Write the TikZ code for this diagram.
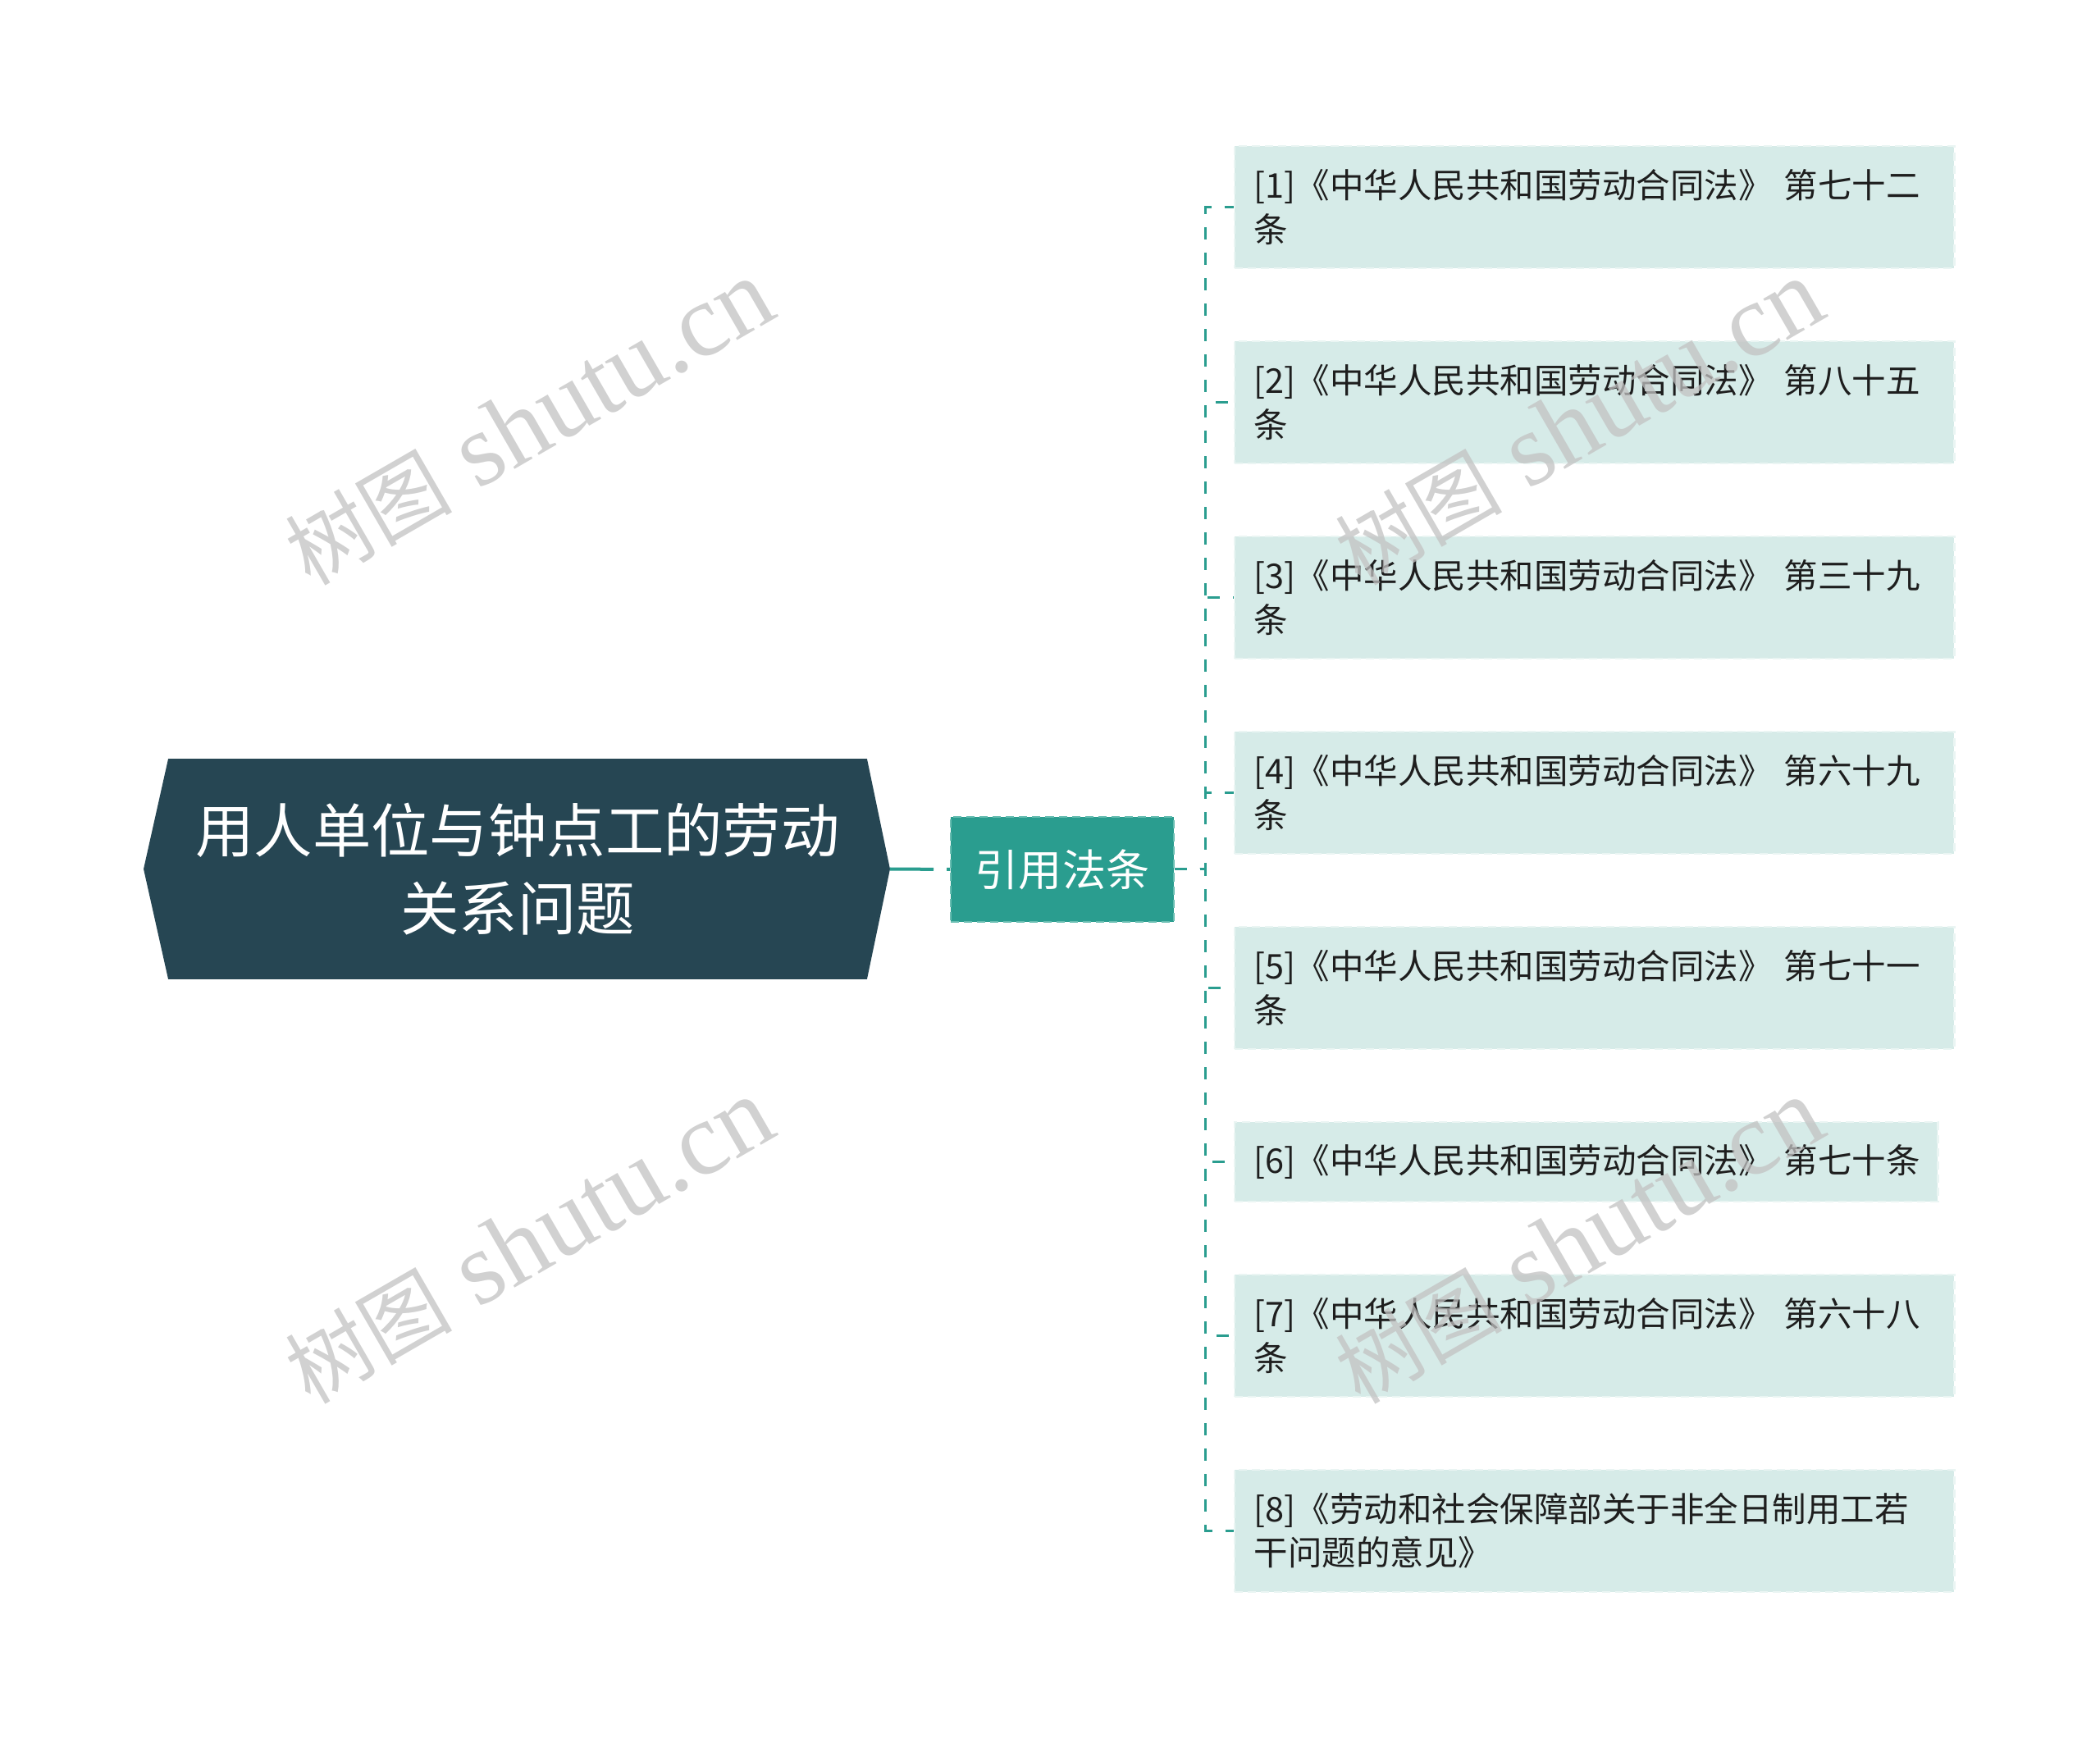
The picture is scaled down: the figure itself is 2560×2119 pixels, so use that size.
\documentclass[tikz,border=0pt]{standalone}
\usepackage{fontspec}
\setmainfont{Noto Sans CJK SC}
\newfontfamily\wmcjk{Noto Sans CJK SC}
\newfontfamily\wmlatin{Liberation Serif}
\usetikzlibrary{backgrounds}
\definecolor{rootfill}{HTML}{264653}
\definecolor{midfill}{HTML}{2A9D8F}
\definecolor{midedge}{HTML}{68BDB1}
\definecolor{leaffill}{HTML}{D6EBE8}
\definecolor{leafedge}{HTML}{EAF5F3}
\definecolor{conncol}{HTML}{2A9D8F}
\definecolor{wmcol}{HTML}{C2C2C2}
\definecolor{leaftext}{HTML}{1E1E1E}
\begin{document}
\begin{tikzpicture}[x=0.01cm,y=-0.01cm,
  roottext/.style={rectangle, inner sep=0pt, minimum width=8.5cm, minimum height=2.67cm,
    text=white, align=center, font=\fontsize{20.3pt}{27pt}\selectfont},
  midbox/.style={rectangle, fill=midfill, draw=midedge, line width=0.02cm,
    dash pattern=on 0.1cm off 0.06cm, inner sep=0pt, minimum width=2.71cm,
    minimum height=1.27cm, text=white, font=\fontsize{15.1pt}{18pt}\selectfont},
  leafbox/.style={rectangle, fill=leaffill, draw=leafedge, line width=0.025cm,
    dash pattern=on 0.1cm off 0.06cm, text width=8.29cm, inner xsep=0.24cm,
    inner ysep=0pt, minimum height=1.49cm, align=left, text=leaftext,
    font=\fontsize{11.8pt}{15.1pt}\selectfont},
  rootconn/.style={draw=conncol, line width=0.04cm, dash pattern=on 0.53cm off 0.16cm},
  conn/.style={draw=conncol, line width=0.03cm, dash pattern=on 0.15cm off 0.16cm},
  wm/.style={rotate=30, text=wmcol, text opacity=0.75, inner sep=0pt}
]
\useasboundingbox (0,0) rectangle (2560,2119);

% root
\node[roottext] (root) at (631,1059.5) {用人单位与钟点工的劳动\\关系问题};
\coordinate (roottip) at ([xshift=0.28cm]root.east);
\coordinate (roottail) at ([xshift=-0.30cm]root.west);
\begin{scope}[on background layer]
  \fill[white] (0,0) rectangle (2560,2119);
  \fill[rootfill] (root.north west) -- (root.north east) -- (roottip)
    -- (root.south east) -- (root.south west) -- (roottail) -- cycle;
\end{scope}

% middle
\node[midbox] (mid) at (1295,1060) {引用法条};

% leaves
\node[leafbox] (leaf1) at (1943.5,252.5) {[1]《中华人民共和国劳动合同法》~第七十二\\条};
\node[leafbox] (leaf2) at (1943.5,490.5) {[2]《中华人民共和国劳动合同法》~第八十五\\条};
\node[leafbox] (leaf3) at (1943.5,728.5) {[3]《中华人民共和国劳动合同法》~第三十九\\条};
\node[leafbox] (leaf4) at (1943.5,966.5) {[4]《中华人民共和国劳动合同法》~第六十九\\条};
\node[leafbox] (leaf5) at (1943.5,1204.5) {[5]《中华人民共和国劳动合同法》~第七十一\\条};
\node[leafbox, text width=8.09cm, minimum height=0.97cm] (leaf6) at (1933.5,1416.5) {[6]《中华人民共和国劳动合同法》~第七十条};
\node[leafbox] (leaf7) at (1943.5,1628.5) {[7]《中华人民共和国劳动合同法》~第六十八\\条};
\node[leafbox] (leaf8) at (1943.5,1866.5) {[8]《劳动和社会保障部关于非全日制用工若\\干问题的意见》};

% connectors
\draw[rootconn] (roottip) -- (mid.west);
\foreach \i in {1,...,8}
  \draw[conn] (mid.east) -- ++(0.38cm,0) |- (leaf\i.west);

% watermarks
\newcommand{\wmtext}{{\wmcjk\fontsize{29pt}{34pt}\selectfont 树图}{\wmlatin\fontsize{36pt}{40pt}\selectfont ~shutu.cn}}
\node[wm] (wm1) at (645,516) {\wmtext};
\node[wm] (wm2) at (645,1514) {\wmtext};
\node[wm] (wm3) at (1925,516) {\wmtext};
\node[wm] (wm4) at (1925,1514) {\wmtext};
\end{tikzpicture}
\end{document}
